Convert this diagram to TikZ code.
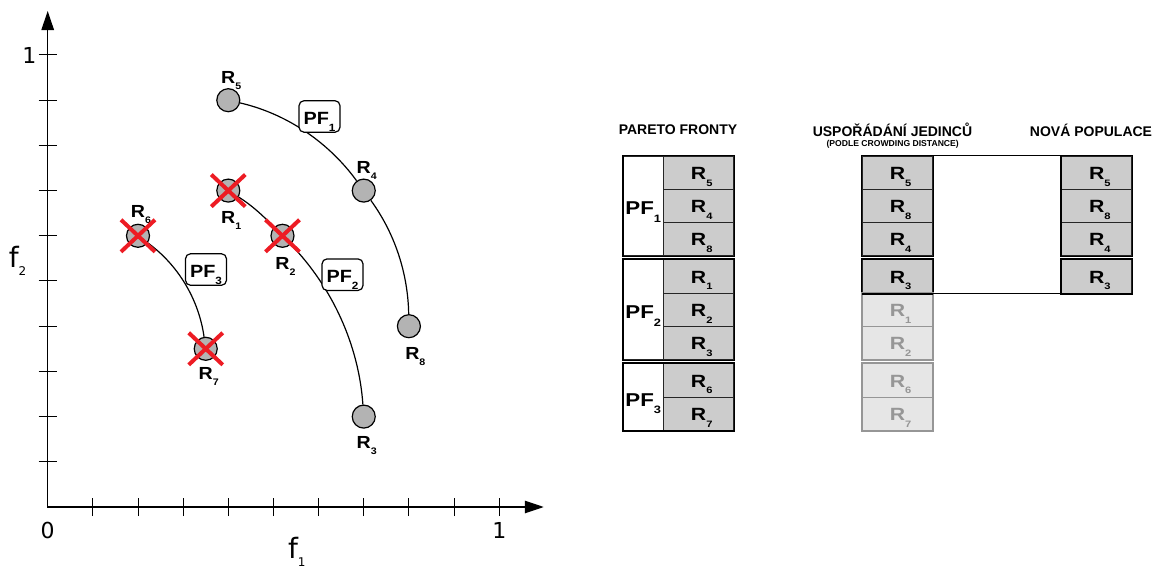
\documentclass[tikz,border=0pt]{standalone}
\usepackage{fontspec}
\setmainfont{Liberation Sans}
\newfontfamily\dv{DejaVu Sans}
\newfontfamily\widefont[FakeStretch=1.2]{Liberation Sans}
\newfontfamily\midfont[FakeStretch=1.12]{Liberation Sans}
\usetikzlibrary{arrows.meta}
\definecolor{ptgray}{RGB}{179,179,179}
\definecolor{cellgray}{RGB}{204,204,204}
\definecolor{litegray}{RGB}{230,230,230}
\definecolor{litetext}{RGB}{150,150,150}
\definecolor{xred}{RGB}{237,28,36}
\newcommand{\Sx}[3]{\smash{\raisebox{#2}{\fontsize{#1}{#1}\selectfont #3}}}
\newcommand{\Rt}[1]{R\rlap{\Sx{9.3}{-6.7pt}{#1}}}
\newcommand{\Pt}[1]{PF\Sx{10.7}{-7.7pt}{#1}}
\newcommand{\Rp}[1]{R\rlap{\Sx{9.5}{-6pt}{#1}}}
\newcommand{\Pp}[1]{PF\Sx{10.5}{-7pt}{#1}}
\newcommand{\Sf}[1]{\rlap{\Sx{12}{-7.5pt}{#1}}}
\begin{document}
\begin{tikzpicture}[x=1pt,y=-1pt,font=\bfseries,
  pt/.style={circle,draw=black,line width=1.2pt,fill=ptgray,minimum size=23pt,inner sep=0pt},
  lab/.style={inner sep=0pt,font=\midfont\bfseries\fontsize{17.5}{17.5}\selectfont},
  pfbox/.style={draw=black,rounded corners=5pt,line width=1.2pt,fill=white,minimum width=41pt,minimum height=31.5pt,inner sep=0pt,text height=15.7pt,text depth=0pt,font=\midfont\bfseries\fontsize{17.7}{17.7}\selectfont},
  xmark/.style={draw=xred,line width=4pt},
  front/.style={draw=black,line width=1.2pt},
  axis/.style={draw=black,line width=1.2pt},
  tick/.style={draw=black,line width=1pt},
  axlab/.style={inner sep=0pt,font=\dv\fontsize{22}{22}\selectfont},
  flab/.style={inner sep=0pt,font=\dv\fontsize{28}{28}\selectfont},
  cell/.style={draw=black!85,line width=1.2pt,fill=cellgray,minimum width=70.6pt,minimum height=33.3pt,inner sep=0pt,text height=13.4pt,text depth=0pt,font=\widefont\bfseries\fontsize{17.7}{17.7}\selectfont},
  lcell/.style={cell,draw=litetext,fill=litegray,text=litetext},
  pfcol/.style={draw=black!85,line width=1.2pt,fill=white,minimum width=40pt,inner sep=0pt,text height=17.9pt,text depth=0pt,font=\widefont\bfseries\fontsize{18.6}{18.6}\selectfont},
  grp/.style={draw=black,line width=1.6pt},
  lgrp/.style={draw=litetext,line width=1.4pt},
  link/.style={draw=black,line width=1.4pt},
  head/.style={inner sep=0pt,font=\bfseries\fontsize{14}{14}\selectfont},
  subhead/.style={inner sep=0pt,font=\bfseries\fontsize{8.6}{8.6}\selectfont}
]
\useasboundingbox (0,0) rectangle (1157,569);

% ---------------- plot ----------------
\begin{scope}[shift={(47.7,507)},x=451.5pt,y=452pt]
  \draw[axis,{Triangle[length=19pt,width=12.5pt]}-{Triangle[length=19pt,width=12.5pt]}]
    (0,1.0973) -- (0,0) -- (1.0987,0);
  \foreach \i in {1,...,10}{
    \draw[tick] (\i/10,0) ++(0,-9pt) -- ++(0,18pt);
    \draw[tick] (0,\i/10) ++(-9pt,0) -- ++(18pt,0);
  }
  \node[pt] (R5) at (0.4,0.9) {};
  \node[pt] (R4) at (0.7,0.7) {};
  \node[pt] (R8) at (0.8,0.4) {};
  \node[pt] (R1) at (0.4,0.7) {};
  \node[pt] (R2) at (0.52,0.6) {};
  \node[pt] (R3) at (0.7,0.2) {};
  \node[pt] (R6) at (0.2,0.6) {};
  \node[pt] (R7) at (0.35,0.35) {};
  \draw[front] (R5) to[out=-13,in=126,looseness=0.87] (R4) to[out=-54,in=91,looseness=0.87] (R8);
  \draw[front] (R1) to[out=-32,in=134,looseness=0.87] (R2) to[out=-46,in=94,looseness=0.87] (R3);
  \draw[front] (R6) to[out=-36,in=98,looseness=0.88] (R7);
  \node[pfbox] (PF1) at (0.602,0.864) {\Pp{1}};
  \node[pfbox] (PF2) at (0.653,0.514) {\Pp{2}};
  \node[pfbox] (PF3) at (0.3506,0.5254) {\Pp{3}};
  \node[lab] (lR5) at ([yshift=23pt]R5.center) {\Rp{5}};
  \node[lab] (lR4) at ([yshift=23.5pt]R4.center) {\Rp{4}};
  \node[lab] (lR6) at ([yshift=24pt]R6.center) {\Rp{6}};
  \node[lab] (lR1) at ([yshift=-26.5pt]R1.center) {\Rp{1}};
  \node[lab] (lR2) at ([yshift=-28pt]R2.center) {\Rp{2}};
  \node[lab] (lR7) at ([yshift=-25pt]R7.center) {\Rp{7}};
  \node[lab] (lR8) at ([xshift=3.5pt,yshift=-27pt]R8.center) {\Rp{8}};
  \node[lab] (lR3) at ([yshift=-26pt]R3.center) {\Rp{3}};
  \foreach \n in {R1,R2,R6,R7}{
    \draw[xmark] ([shift={(-17pt,-16pt)}]\n.center) -- ([shift={(17pt,16pt)}]\n.center);
    \draw[xmark] ([shift={(-17pt,16pt)}]\n.center) -- ([shift={(17pt,-16pt)}]\n.center);
  }
\end{scope}
\node[axlab] (y1) at (29.3,55) {1};
\node[axlab] (x0) at (47.7,530.7) {0};
\node[axlab] (x1) at (499.3,530) {1};
\node[flab] (f1) at (293,548) {f\Sf{1}};
\node[flab] (f2) at (13.7,257) {f\Sf{2}};

% ---------------- tables ----------------
\node[head] (h1) at (678,130) {PARETO FRONTY};
\node[head] (h2) at (892.5,130) {USPOŘÁDÁNÍ JEDINCŮ};
\node[subhead] (h2s) at (892.7,144) {(PODLE CROWDING DISTANCE)};
\node[head] (h3) at (1091,130) {NOVÁ POPULACE};

\node[pfcol,minimum height=99.9pt] (p1) at (643.3,205.95) {\Pt{1}};
\node[pfcol,minimum height=99.9pt] (p2) at (643.3,309.85) {\Pt{2}};
\node[pfcol,minimum height=66.6pt] (p3) at (643.3,397.1) {\Pt{3}};
\node[cell] (a5) at (698.65,172.65) {\Rt{5}};
\node[cell] (a4) at (698.65,205.95) {\Rt{4}};
\node[cell] (a8) at (698.65,239.25) {\Rt{8}};
\node[cell] (a1) at (698.65,276.55) {\Rt{1}};
\node[cell] (a2) at (698.65,309.85) {\Rt{2}};
\node[cell] (a3) at (698.65,343.15) {\Rt{3}};
\node[cell] (a6) at (698.65,380.45) {\Rt{6}};
\node[cell] (a7) at (698.65,413.75) {\Rt{7}};
\draw[grp] (p1.north west) rectangle (a8.south east);
\draw[grp] (p2.north west) rectangle (a3.south east);
\draw[grp] (p3.north west) rectangle (a7.south east);

\node[cell] (m5) at (897.5,172.65) {\Rt{5}};
\node[cell] (m8) at (897.5,205.95) {\Rt{8}};
\node[cell] (m4) at (897.5,239.25) {\Rt{4}};
\node[cell] (m3) at (897.5,276.55) {\Rt{3}};
\node[lcell] (m1) at (897.5,309.85) {\Rt{1}};
\node[lcell] (m2) at (897.5,343.15) {\Rt{2}};
\node[lcell] (m6) at (897.5,380.45) {\Rt{6}};
\node[lcell] (m7) at (897.5,413.75) {\Rt{7}};
\draw[grp] (m5.north west) rectangle (m4.south east);
\draw[grp] (m3.north west) rectangle (m3.south east);
\draw[lgrp] (m1.north west) rectangle (m2.south east);
\draw[lgrp] (m6.north west) rectangle (m7.south east);

\node[cell] (n5) at (1096.7,172.65) {\Rt{5}};
\node[cell] (n8) at (1096.7,205.95) {\Rt{8}};
\node[cell] (n4) at (1096.7,239.25) {\Rt{4}};
\node[cell] (n3) at (1096.7,276.55) {\Rt{3}};
\draw[grp] (n5.north west) rectangle (n4.south east);
\draw[grp] (n3.north west) rectangle (n3.south east);

\draw[link] (m5.north east) -- (n5.north west);
\draw[link] (m3.south east) -- (n3.south west);
\end{tikzpicture}
\end{document}
